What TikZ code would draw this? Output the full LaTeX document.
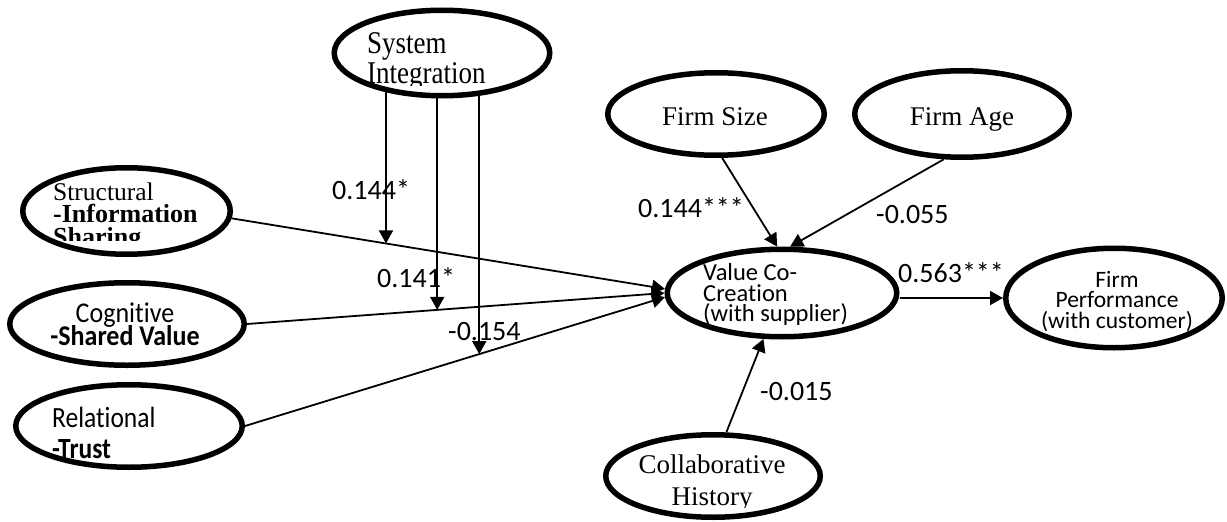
\documentclass[tikz,border=0pt]{standalone}
\usepackage{fontspec}
\usepackage{graphicx}
\setmainfont{Liberation Serif}
\newfontfamily\carl[Ligatures=NoCommon]{Carlito}
\usetikzlibrary{arrows.meta,shapes.geometric,intersections}
% vertical stretch of a text line about its baseline
\newcommand{\vstretch}[2]{\scalebox{1}[#1]{#2}}
\tikzset{
  factor/.style={ellipse, draw, line width=5.5pt, inner sep=0pt},
  link/.style={line width=1.8pt},
  arr/.style={link, -{Triangle[length=13pt,width=14pt]}},
  coef/.style={inner sep=0pt, anchor=base west, font=\carl\fontsize{28}{30}\selectfont},
  tms/.style={inner sep=0pt, font=\fontsize{27}{30}\selectfont},
  tmsb/.style={inner sep=0pt, font=\bfseries\fontsize{26}{30}\selectfont},
  cal/.style={inner sep=0pt, font=\carl\fontsize{#1}{30}\selectfont},
  calb/.style={inner sep=0pt, font=\carl\bfseries\fontsize{#1}{30}\selectfont},
}
\begin{document}
\begin{tikzpicture}[x=1pt,y=-1pt]
\useasboundingbox (0,0) rectangle (1227,522);
\fill[white] (0,0) rectangle (1227,522);

% constructs
\node[factor, minimum width=215.5pt, minimum height=85.5pt] (si)  at (442,53)    {};
\node[factor, minimum width=207.5pt, minimum height=86.5pt] (str) at (126.5,211) {};
\node[factor, minimum width=234.5pt, minimum height=82.5pt] (cog) at (127,324)   {};
\node[factor, minimum width=226.5pt, minimum height=82.5pt] (rel) at (129,426)   {};
\node[factor, minimum width=216.5pt, minimum height=82.5pt] (fs)  at (716,114)   {};
\node[factor, minimum width=214.5pt, minimum height=86.5pt] (fa)  at (962,114)   {};
\node[factor, minimum width=229.5pt, minimum height=87.5pt] (vcc) at (782,293)   {};
\node[factor, minimum width=216.5pt, minimum height=99.5pt] (fp)  at (1114,298)  {};
\node[factor, minimum width=214.5pt, minimum height=82.5pt] (ch)  at (713,476)   {};

% construct labels
\node[tms, anchor=base west] (si-a) at (367,53) {\vstretch{1.17}{System}};
\begin{scope}
  \clip (0,0) rectangle (1227,85);
  \node[tms, anchor=base west] (si-b) at (367,83) {\vstretch{1.17}{Integration}};
\end{scope}

\node[tms, anchor=base west, font=\fontsize{25.5}{30}\selectfont] (str-a) at (53,200) {Structural};
\node[tmsb, anchor=base west] (str-b) at (53,222) {-Information};
\begin{scope}
  \clip (0,0) rectangle (1227,240);
  \node[tmsb, anchor=base west] (str-c) at (53,245) {Sharing};
\end{scope}

\node[cal=26, anchor=base] (cog-a) at (125,322) {\vstretch{1.1}{Cognitive}};
\node[calb=26, anchor=base] (cog-b) at (125,345) {\vstretch{1.1}{-Shared Value}};

\node[cal=25.5, anchor=base west] (rel-a) at (52,427) {\vstretch{1.15}{Relational}};
\node[calb=25.5, anchor=base west] (rel-b) at (52,458) {\vstretch{1.15}{-Trust}};

\node[tms, anchor=base] (fs-a) at (715,125) {Firm Size};
\node[tms, anchor=base] (fa-a) at (962,125) {Firm Age};

\node[cal=24.5, anchor=base west] (vcc-a) at (703,280) {Value Co-};
\node[cal=24.5, anchor=base west] (vcc-b) at (703,301) {Creation};
\begin{scope}
  \clip (0,0) rectangle (1227,324);
  \node[cal=24.5, anchor=base west] (vcc-c) at (703,321) {(with supplier)};
\end{scope}

\node[cal=23.5, anchor=base] (fp-a) at (1117,287) {Firm};
\node[cal=23.5, anchor=base] (fp-b) at (1117,307) {Performance};
\node[cal=23.5, anchor=base] (fp-c) at (1117,328) {(with customer)};

\node[tms, anchor=base] (ch-a) at (712,473) {Collaborative};
\begin{scope}
  \clip (0,0) rectangle (1227,507);
  \node[tms, anchor=base] (ch-b) at (712,505) {History};
\end{scope}

% direct paths
\draw[arr, name path=pstr] (str.-4) -- (vcc.178);
\draw[arr, name path=pcog] (cog.east) -- (vcc.180);
\draw[arr, name path=prel] (rel.east) -- (vcc.182);
\draw[arr] (fs.-82) -- (vcc.96);
\draw[arr] (fa.248) -- (vcc.80);
\draw[arr] (ch.73) -- (vcc.248);
\draw[arr] (vcc.east |- fp.west) -- (fp.west);

% moderating paths of system integration
\path[name path=v1] (si.215) -- ++(0,300);
\path[name path=v2] (si.264) -- ++(0,300);
\path[name path=v3] (si.-49) -- ++(0,300);
\draw[arr, name intersections={of=v1 and pstr, by=m1}] (si.215) -- (m1);
\draw[arr, name intersections={of=v2 and pcog, by=m2}] (si.264) -- (m2);
\draw[arr, name intersections={of=v3 and prel, by=m3}] (si.-49) -- (m3);

% path coefficients
\node[coef] (c1) at (332,199) {0.144*};
\node[coef] (c2) at (377,287) {0.141*};
\node[coef] (c3) at (448,340) {-0.154};
\node[coef] (c4) at (638,217) {0.144***};
\node[coef] (c5) at (876,223) {-0.055};
\node[coef] (c6) at (898,282) {0.563***};
\node[coef] (c7) at (760,400) {-0.015};
\end{tikzpicture}
\end{document}
